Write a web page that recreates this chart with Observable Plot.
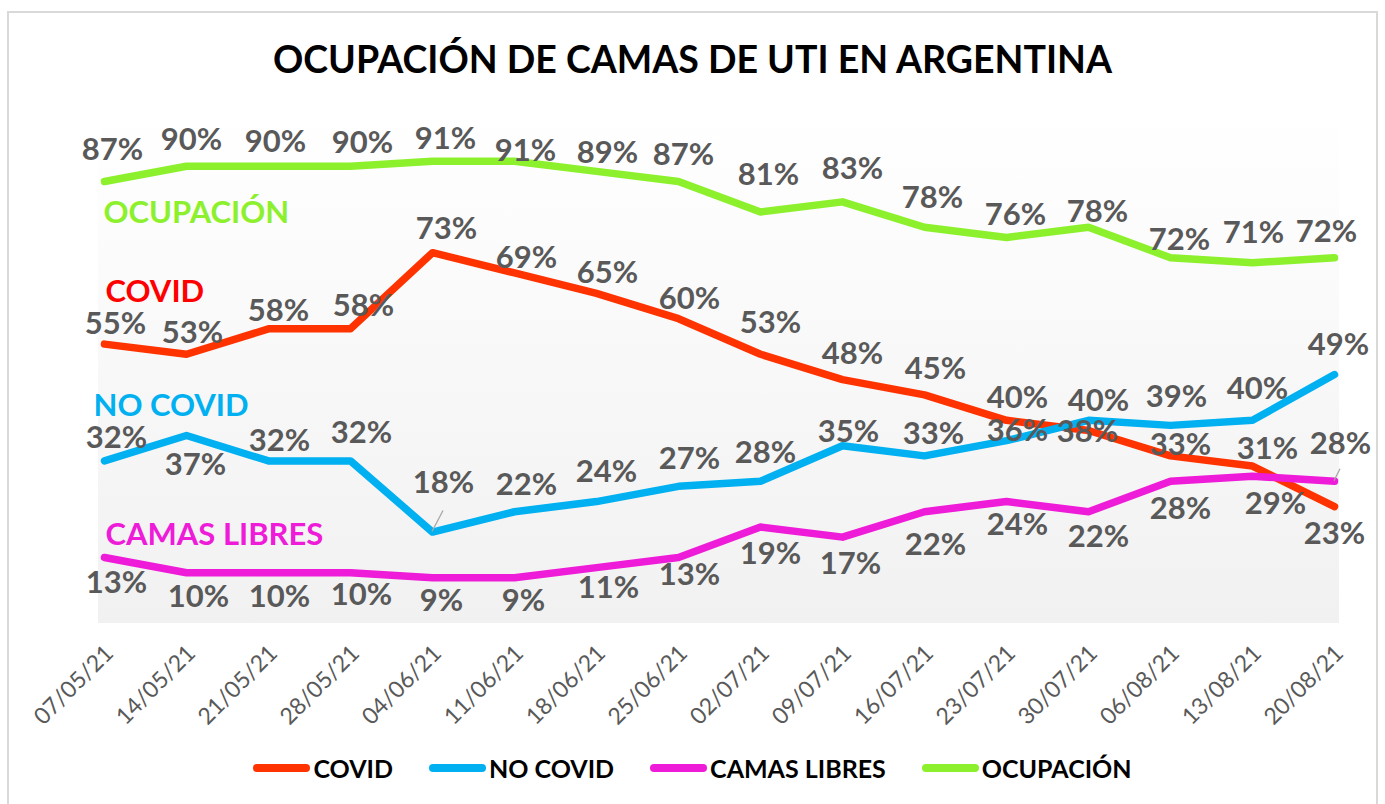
<!DOCTYPE html>
<html>
<head>
<meta charset="utf-8">
<script src="https://cdn.jsdelivr.net/npm/d3@7"></script>
<script src="https://cdn.jsdelivr.net/npm/@observablehq/plot@0.6"></script>
<style>
  html, body { margin: 0; padding: 0; background: #ffffff; }
  body { width: 1385px; height: 804px; position: relative; overflow: hidden; font-family: Lato, "Open Sans", sans-serif; }
  #frame { position: absolute; left: 7px; top: 11px; width: 1371px; height: 800px; border: 2px solid #d9d9d9; box-sizing: border-box; }
  #title { position: absolute; left: 0; top: 36px; width: 1385px; text-align: center; font-weight: 700; font-size: 37.5px; line-height: 46px; color: #000; }
  #chart { position: absolute; left: 0; top: 100px; }
  #legend { position: absolute; left: 0; top: 752px; width: 1385px; height: 32px; display: flex; justify-content: center; align-items: center; font-weight: 700; font-size: 25px; color: #000; }
  .item { display: flex; align-items: center; margin: 0 18px; }
  .sw { display: inline-block; width: 57px; height: 8px; border-radius: 4px; margin-right: 3px; }
</style>
</head>
<body>
<div id="frame"></div>
<div id="title">OCUPACIÓN DE CAMAS DE UTI EN ARGENTINA</div>
<div id="chart"></div>
<div id="legend"></div>
<script>
// ---- data ----
const dates = ["07/05/21","14/05/21","21/05/21","28/05/21","04/06/21","11/06/21","18/06/21","25/06/21",
               "02/07/21","09/07/21","16/07/21","23/07/21","30/07/21","06/08/21","13/08/21","20/08/21"];
const covid       = [55,53,58,58,73,69,65,60,53,48,45,40,38,33,31,23];
const noCovid     = [32,37,32,32,18,22,24,27,28,35,33,36,40,39,40,49];
const camasLibres = [13,10,10,10, 9, 9,11,13,19,17,22,24,22,28,29,28];
const ocupacion   = [87,90,90,90,91,91,89,87,81,83,78,76,78,72,71,72];
const seriesNames = ["COVID","NO COVID","CAMAS LIBRES","OCUPACIÓN"];

// ---- styling: colours and data-label placement (px offsets from each point) ----
const lineColors  = {"COVID":"#FF3300","NO COVID":"#00B0F0","CAMAS LIBRES":"#EE1BD8","OCUPACIÓN":"#8CF02C"};
const nameColors  = {"COVID":"#FF0000","NO COVID":"#00B0F0","CAMAS LIBRES":"#EE1BD8","OCUPACIÓN":"#8CF02C"};
const labelDx = {
  "COVID":        [11,6,10,13,14,12,11,11,10,10,11,11,-1,10,15,0],
  "NO COVID":     [12,9,11,11,11,12,10,11,5,6,9,11,10,6,5,4],
  "CAMAS LIBRES": [12,12,11,11,9,9,12,11,10,8,11,11,10,10,23,6],
  "OCUPACIÓN":    [8,5,7,12,13,11,11,5,8,10,8,9,9,9,1,-8]
};
const labelDy = {
  "COVID":        [-20,-21,-18,-23,-24,-15,-20,-20,-31,-26,-26,-22,2,-11,-17,27],
  "NO COVID":     [-23,30,-20,-28,-49,-27,-30,-27,-28,-14,-22,-10,-19,-28,-31,-30],
  "CAMAS LIBRES": [26,24,24,22,23,23,20,18,27,27,33,23,25,28,28,-37],
  "OCUPACIÓN":    [-31,-26,-24,-23,-22,-10,-18,-26,-37,-33,-29,-22,-15,-18,-30,-26]
};

// ---- long table built from the arrays ----
const valuesBySeries = {"COVID": covid, "NO COVID": noCovid, "CAMAS LIBRES": camasLibres, "OCUPACIÓN": ocupacion};
const rows = seriesNames.flatMap(s => dates.map((d, i) => ({date: d, series: s, value: valuesBySeries[s][i], i})));

const labelFont = 31;
const labelMarks = rows.map(r => Plot.text([r], {
  x: "date", y: "value", text: d => d.value + "%",
  dx: labelDx[r.series][r.i], dy: labelDy[r.series][r.i],
  fill: "#595959", fontSize: labelFont, fontWeight: 700
}));

// background gradient of the plot area
const background = (index, scales, values, dims) => {
  const g = d3.create("svg:g");
  const grad = g.append("defs").append("linearGradient")
    .attr("id", "plotbg").attr("x1", 0).attr("y1", 0).attr("x2", 0).attr("y2", 1);
  grad.append("stop").attr("offset", "0%").attr("stop-color", "#ffffff");
  grad.append("stop").attr("offset", "100%").attr("stop-color", "#f1f1f1");
  g.append("rect")
    .attr("x", dims.marginLeft).attr("y", dims.marginTop)
    .attr("width", dims.width - dims.marginLeft - dims.marginRight)
    .attr("height", dims.height - dims.marginTop - dims.marginBottom)
    .attr("fill", "url(#plotbg)");
  return g.node();
};

// small leader lines for two displaced labels
const leaders = (index, scales) => {
  const g = d3.create("svg:g").attr("stroke", "#a6a6a6").attr("stroke-width", 1.3);
  const items = [
    {date: dates[4], value: noCovid[4], ddx: 11, ddy: -21},
    {date: dates[15], value: camasLibres[15], ddx: 6, ddy: -12}
  ];
  for (const it of items) {
    const x = scales.x(it.date), y = scales.y(it.value);
    g.append("line").attr("x1", x).attr("y1", y).attr("x2", x + it.ddx).attr("y2", y + it.ddy);
  }
  return g.node();
};

const nameLabel = (s, dx, dy) => Plot.text([s], {
  frameAnchor: "top-left", lineAnchor: "middle", text: d => d, textAnchor: "start", dx, dy,
  fill: nameColors[s], fontSize: 31, fontWeight: 700
});

const chart = Plot.plot({
  width: 1385,
  height: 640,
  marginLeft: 98,
  marginRight: 46,
  marginTop: 15,
  marginBottom: 117,
  style: {fontFamily: "Lato, 'Open Sans', sans-serif", background: "transparent", color: "#595959", overflow: "visible"},
  x: {type: "point", domain: dates, padding: 0, insetLeft: 5, insetRight: 5, axis: null},
  y: {domain: [0, 100], axis: null},
  marks: [
    background,
    Plot.axisX({tickRotate: -45, tickSize: 0, tickPadding: 26, dx: 5, fontSize: 23, fill: "#595959", label: null}),
    Plot.line(rows, {x: "date", y: "value", z: "series", stroke: d => lineColors[d.series],
      strokeWidth: 7.5, strokeLinecap: "round", strokeLinejoin: "round"}),
    leaders,
    nameLabel("OCUPACIÓN", 5, 98),
    nameLabel("COVID", 7, 177),
    nameLabel("NO COVID", -5, 291),
    nameLabel("CAMAS LIBRES", 7, 420),
    ...labelMarks
  ]
});
document.getElementById("chart").appendChild(chart);

// legend
const legend = document.getElementById("legend");
for (const s of seriesNames) {
  const item = document.createElement("span");
  item.className = "item";
  const sw = document.createElement("span");
  sw.className = "sw";
  sw.style.background = lineColors[s];
  item.appendChild(sw);
  item.appendChild(document.createTextNode(s));
  legend.appendChild(item);
}
</script>
</body>
</html>
